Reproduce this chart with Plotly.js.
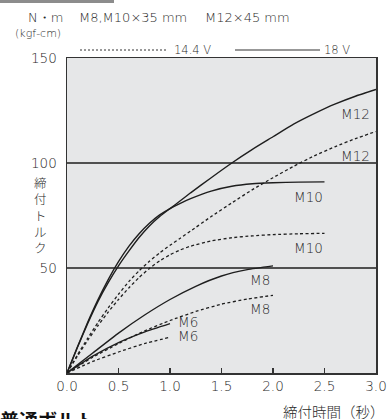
<!DOCTYPE html>
<html><head><meta charset="utf-8">
<script src="https://cdn.plot.ly/plotly-3.0.1.min.js"></script>
<style>html,body{margin:0;padding:0;background:#fff;}#chart{width:388px;height:419px;}</style>
</head><body><div id="chart"></div>
<script>
// ---- data ----
const m12_18_x = [0,0.1,0.2,0.3,0.4,0.5,0.6,0.7,0.8,0.9,1.0,1.1,1.2,1.4,1.6,1.8,2.0,2.2,2.4,2.6,2.8,3.0];
const m12_18_y = [0,12,23.5,34,43,51,58,64.5,70,74.5,78.3,82,85.8,93,100,106.5,112.5,118.5,123.5,128,131.8,135];
const m10_18_x = [0,0.1,0.2,0.3,0.4,0.5,0.6,0.7,0.8,0.9,1.0,1.1,1.2,1.4,1.6,1.8,2.0,2.25,2.5];
const m10_18_y = [0,12.3,24,34.8,44.5,53,60.3,66.3,71.3,75.3,78.3,80.8,83,86.6,88.9,90.1,90.6,90.9,91];
const m8_18_x = [0,0.25,0.5,0.75,1.0,1.25,1.5,1.75,2.0];
const m8_18_y = [0,9.5,19,27.5,35,41.3,46.2,49.2,51];
const m6_18_x = [0,0.25,0.5,0.75,1.0];
const m6_18_y = [0,8,14.5,19.5,23.5];
const m12_14_x = [0,0.1,0.2,0.3,0.4,0.5,0.6,0.7,0.8,0.9,1.0,1.1,1.2,1.4,1.6,1.8,2.0,2.2,2.4,2.6,2.8,3.0];
const m12_14_y = [0,8.5,16.5,24,31,37.5,43.5,48.7,53.2,57.2,60.8,64.2,67.6,74.5,81,87.3,93,98.4,103.4,107.7,111.6,115];
const m10_14_x = [0,0.1,0.2,0.3,0.4,0.5,0.6,0.7,0.8,0.9,1.0,1.1,1.2,1.4,1.6,1.8,2.0,2.25,2.5];
const m10_14_y = [0,8,15.5,22.5,29,35,40.5,45.5,49.8,53.4,56.3,58.6,60.4,62.9,64.4,65.3,65.9,66.3,66.5];
const m8_14_x = [0,0.25,0.5,0.75,1.0,1.25,1.5,1.75,2.0];
const m8_14_y = [0,7.5,14,20,25,29.3,32.8,35.2,37];
const m6_14_x = [0,0.25,0.5,0.75,1.0];
const m6_14_y = [0,5.5,10,14,17];
const xTicks = [0,0.5,1.0,1.5,2.0,2.5,3.0];
const xTickText = ["0.0","0.5","1.0","1.5","2.0","2.5","3.0"];
const yTicks = [50,100,150];
const yTickText = ["50","100","150"];
const curveLabels = ["M12","M12","M10","M10","M8","M8","M6","M6"];
const legendNames = ["14.4 V","18 V"];

// ---- drawing ----
const LAT = '"DejaVu Sans", "Noto Sans", sans-serif';
const CJK = '"Noto Sans CJK JP", sans-serif';
const ink = '#2a2a2a';
function solid(x,y){return {x:x,y:y,mode:'lines',type:'scatter',line:{color:'#1e1e1e',width:1.4,shape:'spline',smoothing:0.5},hoverinfo:'skip',showlegend:false};}
function dashed(x,y){return {x:x,y:y,mode:'lines',type:'scatter',line:{color:'#1e1e1e',width:1.3,dash:'3px,2.5px',shape:'spline',smoothing:0.5},hoverinfo:'skip',showlegend:false};}
const traces = [
  solid(m12_18_x,m12_18_y), solid(m10_18_x,m10_18_y), solid(m8_18_x,m8_18_y), solid(m6_18_x,m6_18_y),
  dashed(m12_14_x,m12_14_y), dashed(m10_14_x,m10_14_y), dashed(m8_14_x,m8_14_y), dashed(m6_14_x,m6_14_y)
];
const L=67,R=12,T=58,B=46,W=388,H=419;
const pw=W-L-R, ph=H-T-B;
function px(p){return (p-L)/pw;}
function py(p){return (H-B-p)/ph;}
const labPos = [[2.80,123.5],[2.80,103.2],[2.34,84],[2.34,59.5],[1.875,44.5],[1.875,30.3],[1.17,24.5],[1.17,17.8]];
const ann = curveLabels.map((t,i)=>({x:labPos[i][0],y:labPos[i][1],xref:'x',yref:'y',text:t,showarrow:false,font:{family:LAT,size:13.5,color:ink,weight:300},xanchor:'center',yanchor:'middle'}));
function pann(t,x,y,size,xa,ya,fam,extra){return Object.assign({text:t,x:px(x),y:py(y),xref:'paper',yref:'paper',showarrow:false,font:{family:fam||LAT,size:size,color:ink,weight:300},xanchor:xa||'center',yanchor:ya||'middle'},extra||{});}
ann.push(pann('N・m',45,17,13));
ann.push(pann('(kgf-cm)',38,33,11));
ann.push(pann('M8,M10×35 mm',77,17,13,'left'));
ann.push(pann('M12×45 mm',203,17,13,'left'));
ann.push(pann(legendNames[0],172,50,11.5,'left'));
ann.push(pann(legendNames[1],322,50,11.5,'left'));
ann.push(pann('締<br>付<br>ト<br>ル<br>ク',40,215,12.5,'center','middle',CJK));
ann.push(pann('締付時間（秒）',387,411,14.5,'right','middle',CJK));
ann.push(pann('普通ボルト',-2,404,19,'left','top',CJK,{font:{family:CJK,size:19,color:'#111',weight:'bold'}}));
const shapes = [
  {type:'line',xref:'paper',yref:'paper',x0:px(80),x1:px(168),y0:py(50),y1:py(50),line:{color:'#333',width:1,dash:'2px,2px'}},
  {type:'line',xref:'paper',yref:'paper',x0:px(235),x1:px(320),y0:py(50),y1:py(50),line:{color:'#333',width:1.2}},
  {type:'rect',xref:'paper',yref:'paper',x0:px(0),x1:px(114),y0:py(3),y1:py(0),line:{width:0},fillcolor:'#8c8c8c'}
];
const layout = {
  width:W,height:H,margin:{l:L,r:R,t:T,b:B,pad:0},
  paper_bgcolor:'#ffffff',plot_bgcolor:'#e6e7e8',
  font:{family:LAT,size:13,color:ink},
  showlegend:false,
  xaxis:{range:[0,3],tickvals:xTicks,ticktext:xTickText,ticks:'inside',ticklen:5,tickwidth:1.2,tickcolor:'#333',
    showgrid:false,zeroline:false,showline:true,mirror:true,linecolor:'#333',linewidth:1.5,
    tickfont:{family:LAT,size:13.5,color:ink,weight:300},fixedrange:true},
  yaxis:{range:[0,150],tickvals:yTicks,ticktext:yTickText,ticks:'',showgrid:true,gridcolor:'#505050',gridwidth:1.4,
    zeroline:false,showline:true,mirror:true,linecolor:'#333',linewidth:1.5,ticklabelstandoff:6,
    tickfont:{family:LAT,size:13.5,color:ink,weight:300},fixedrange:true},
  annotations:ann,shapes:shapes
};
Plotly.newPlot('chart',traces,layout,{staticPlot:true,displayModeBar:false});
</script></body></html>
